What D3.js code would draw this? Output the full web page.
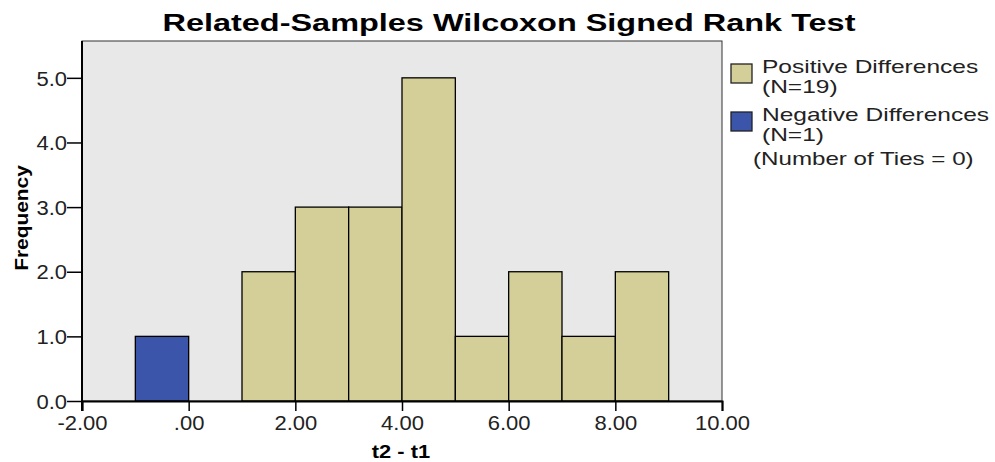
<!DOCTYPE html>
<html>
<head>
<meta charset="utf-8">
<script src="https://cdn.jsdelivr.net/npm/d3@7"></script>
<style>
  body { margin: 0; background: #fff; }
  text { font-family: "Liberation Sans", Arial, sans-serif; fill: #000; }
</style>
</head>
<body>
<svg id="chart" width="995" height="462"></svg>
<script>
// histogram bins of t2 - t1 (bin start, bin end, count)
const binStarts = [-1, 1, 2, 3, 4, 5, 6, 7, 8];
const binEnds   = [0, 2, 3, 4, 5, 6, 7, 8, 9];
const counts    = [1, 2, 3, 3, 5, 1, 2, 1, 2];
const signs     = ["neg", "pos", "pos", "pos", "pos", "pos", "pos", "pos", "pos"];

const xTicks = [-2, 0, 2, 4, 6, 8, 10];
const yTicks = [0, 1, 2, 3, 4, 5];

const legendLabels = [
    ["Positive Differences", "(N=19)"],
    ["Negative Differences", "(N=1)"]
];
const tiesLabel = "(Number of Ties = 0)";

const colors = { pos: "#d4cf98", neg: "#3b55aa" };

// the original renders text a bit wider than Arial, so stretch it
function stretch(sel, f) {
    sel.each(function() {
        const w = this.getComputedTextLength();
        d3.select(this).attr("textLength", w * f).attr("lengthAdjust", "spacingAndGlyphs");
    });
}

// SPSS style: plain hyphen, no leading zero
function spssFormat(d) {
    if (d === 0) return ".00";
    return d3.format(".2f")(d).replace("\u2212", "-");
}

const svg = d3.select("#chart");
const margin = { left: 82, right: 273, top: 41, bottom: 61 };
const width = 995 - margin.left - margin.right,
      height = 462 - margin.top - margin.bottom;

const x = d3.scaleLinear().domain([-2, 10]).range([0, width]);
const y = d3.scaleLinear().domain([0, 5.57]).range([height, 0]);

const g = svg.append("g").attr("transform", `translate(${margin.left},${margin.top})`);

g.append("rect")
    .attr("width", width)
    .attr("height", height)
    .style("fill", "#e8e8e8")
    .style("stroke", "#333")
    .style("stroke-width", 1);

const bars = binStarts.map((s, i) => ({ s: s, e: binEnds[i], n: counts[i], sign: signs[i] }));

g.selectAll("rect.bar")
    .data(bars)
    .join("rect")
    .attr("class", "bar")
    .attr("x", d => x(d.s))
    .attr("y", d => y(d.n))
    .attr("width", d => x(d.e) - x(d.s))
    .attr("height", d => y(0) - y(d.n))
    .style("fill", d => colors[d.sign])
    .style("stroke", "#000")
    .style("stroke-width", 1.3);

const xAxis = g.append("g")
    .attr("transform", `translate(0,${height})`)
    .call(d3.axisBottom(x).tickValues(xTicks).tickSize(10).tickFormat(spssFormat));

const yAxis = g.append("g")
    .call(d3.axisLeft(y).tickValues(yTicks).tickSize(15).tickFormat(d3.format(".1f")));

[xAxis, yAxis].forEach(a => {
    a.select(".domain").style("stroke", "#000").style("stroke-width", 2);
    a.selectAll(".tick line").style("stroke", "#000").style("stroke-width", 1.5);
    a.selectAll(".tick text")
        .style("font-size", "20px")
        .style("font-family", "'Liberation Sans', Arial, sans-serif")
        .style("fill", "#222");
});
xAxis.selectAll(".tick text").attr("y", 11).attr("dy", "0.9em");
yAxis.selectAll(".tick text").attr("x", -15).attr("dy", "0.36em");
yAxis.select(".domain").attr("d", `M0,${height + 10}V0`);
stretch(xAxis.selectAll(".tick text"), 1.1);
stretch(yAxis.selectAll(".tick text"), 1.1);

// title
svg.append("text")
    .attr("x", 509)
    .attr("y", 31)
    .attr("text-anchor", "middle")
    .style("font-size", "23px")
    .style("font-weight", "bold")
    .text("Related-Samples Wilcoxon Signed Rank Test")
    .call(stretch, 1.41);

// axis titles
svg.append("text")
    .attr("x", margin.left + x(4) - 1)
    .attr("y", 458)
    .attr("text-anchor", "middle")
    .style("font-size", "19px")
    .style("font-weight", "bold")
    .text("t2 - t1")
    .call(stretch, 1.15);

svg.append("text")
    .attr("transform", `translate(28,218) rotate(-90)`)
    .attr("text-anchor", "middle")
    .style("font-size", "19px")
    .style("font-weight", "bold")
    .text("Frequency")
    .call(stretch, 1.1);

// legend
const legend = svg.append("g").attr("transform", "translate(731,0)");
const legendKeys = ["pos", "neg"];
legendKeys.forEach((k, i) => {
    const ly = 64 + i * 48;
    legend.append("rect")
        .attr("x", 0).attr("y", ly)
        .attr("width", 21).attr("height", 19)
        .style("fill", colors[k])
        .style("stroke", "#222")
        .style("stroke-width", 1.3);
    legendLabels[i].forEach((t, j) => {
        legend.append("text")
            .attr("x", 31)
            .attr("y", ly + 9 + j * 20)
            .style("font-size", "19px")
            .style("fill", "#222")
            .text(t)
            .call(stretch, 1.29);
    });
});
legend.append("text")
    .attr("x", 22)
    .attr("y", 165)
    .style("font-size", "19px")
    .style("fill", "#222")
    .text(tiesLabel)
    .call(stretch, 1.27);
</script>
</body>
</html>
